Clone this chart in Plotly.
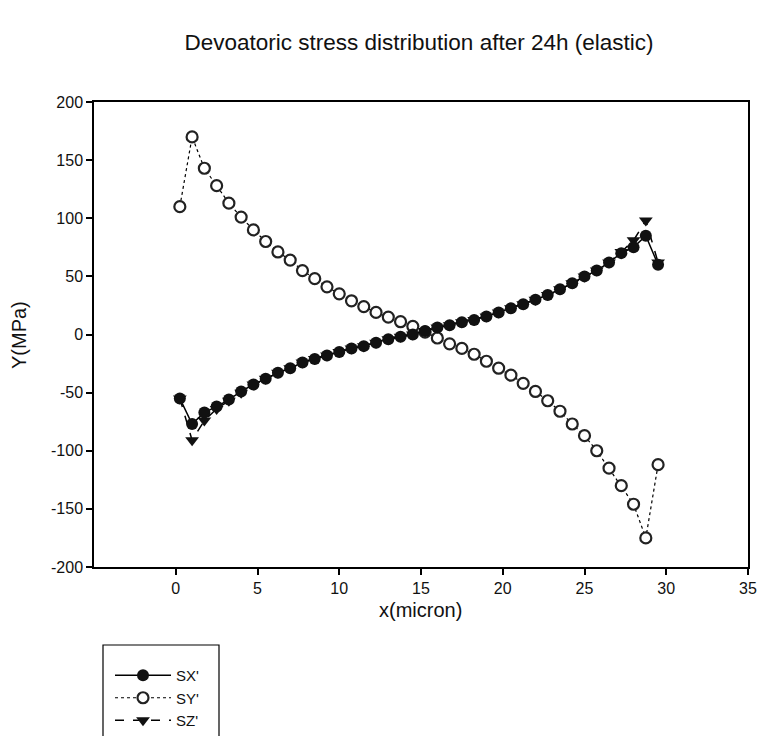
import plotly.graph_objects as go

# Data
x_micron = [0.25 + 0.75 * i for i in range(40)]

sx = [-55, -77, -67, -62, -56, -49, -43, -38, -33, -29,
      -24, -21, -18, -15, -12, -10, -7, -4, -2, 0,
      3, 6, 8, 10.5, 12.5, 15.5, 19, 22.5, 26, 30,
      34, 39, 44, 50, 55, 62, 70, 75, 85, 60]

sy = [110, 170, 143, 128, 113, 101, 90, 80, 71, 64,
      55, 48, 41, 35, 29, 24, 19, 15, 11, 7,
      2, -3, -8, -12, -17, -23, -29, -35, -42, -49,
      -57, -66, -77, -87, -100, -115, -130, -146, -175, -112]

sz = [-55, -91, -74, -64, -57, -50, -43, -38, -33, -29,
      -24, -21, -18, -15, -12, -10, -7, -4, -2, 0,
      3, 6, 8, 10.5, 12.5, 15.5, 19, 22.5, 26, 30,
      34, 39, 44, 50, 55, 62, 71, 81, 98, 62]

x_ticks = [0, 5, 10, 15, 20, 25, 30, 35]
y_ticks = [-200, -150, -100, -50, 0, 50, 100, 150, 200]
y_tick_labels = ["-200", "-150", "-100", "-50", "0", "50", "100", "150", "200"]

W, H = 761, 736
ML, MR, MT, MB = 94, 13, 102, 169
PW, PH = W - ML - MR, H - MT - MB

def px_x(p):
    return (p - ML) / PW

def px_y(p):
    return (H - MB - p) / PH

fig = go.Figure()

fig.add_trace(go.Scatter(
    x=x_micron, y=sy, name="SY'", mode="lines+markers", legendrank=2,
    line=dict(color="black", width=1.2, dash="dot"),
    marker=dict(symbol="circle", size=11, color="white",
                line=dict(width=2.2, color="#222")),
))
fig.add_trace(go.Scatter(
    x=x_micron, y=sz, name="SZ'", mode="lines+markers", legendrank=3,
    line=dict(color="black", width=1.5, dash="dash"),
    marker=dict(symbol="triangle-down", size=12, color="#111"),
))
fig.add_trace(go.Scatter(
    x=x_micron, y=sx, name="SX'", mode="lines+markers", legendrank=1,
    line=dict(color="black", width=1.5),
    marker=dict(symbol="circle", size=12, color="#111"),
))

font = dict(family="Liberation Sans, Arial, sans-serif", color="#111")

fig.update_layout(
    width=W, height=H,
    margin=dict(l=ML, r=MR, t=MT, b=MB, autoexpand=False),
    paper_bgcolor="white", plot_bgcolor="white",
    font=dict(**font, size=14),
    title=dict(text="Devoatoric stress distribution after 24h (elastic)",
               x=419 / W, xanchor="center", xref="container",
               y=1 - 42 / H, yanchor="middle", yref="container",
               font=dict(**font, size=22.5)),
    showlegend=True,
    legend=dict(x=110 / W, xanchor="left", y=1 - 659 / H, yanchor="top",
                xref="container", yref="container",
                bgcolor="rgba(0,0,0,0)", borderwidth=0,
                itemwidth=56, tracegroupgap=0,
                font=dict(**font, size=15)),
    shapes=[dict(type="rect", xref="paper", yref="paper",
                 x0=px_x(103), x1=px_x(219),
                 y0=px_y(750), y1=px_y(645),
                 line=dict(color="black", width=1.2))],
    annotations=[
        dict(text="Y(MPa)", xref="paper", yref="paper",
             x=px_x(19), y=px_y(335), xanchor="center", yanchor="middle",
             textangle=-90, showarrow=False, font=dict(**font, size=20)),
        dict(text="x(micron)", xref="paper", yref="paper",
             x=px_x(420), y=px_y(610), xanchor="center", yanchor="middle",
             showarrow=False, font=dict(**font, size=20)),
    ],
)

fig.update_xaxes(
    range=[-5, 35], tickvals=x_ticks,
    showgrid=False, zeroline=False,
    showline=True, linecolor="black", linewidth=1.5, mirror=True,
    ticks="outside", ticklen=6, tickwidth=1.5, tickcolor="black",
    tickfont=dict(**font, size=16),
)
fig.update_yaxes(
    range=[-200, 200], tickvals=y_ticks, ticktext=y_tick_labels,
    showgrid=False, zeroline=False,
    showline=True, linecolor="black", linewidth=1.5, mirror=True,
    ticks="outside", ticklen=6, tickwidth=1.5, tickcolor="black",
    tickfont=dict(**font, size=16),
)

fig.write_html("out.html")
